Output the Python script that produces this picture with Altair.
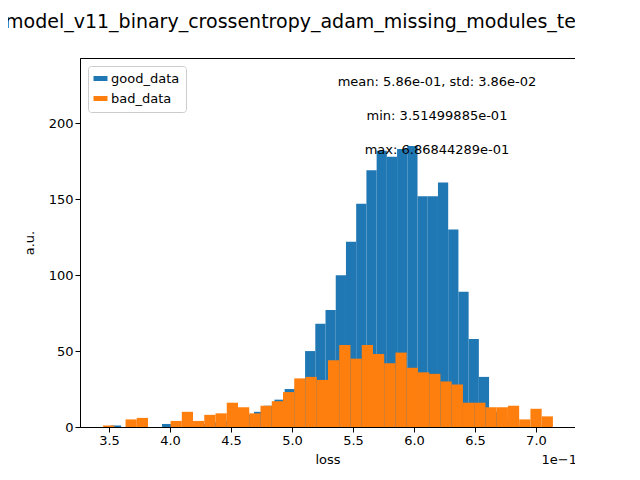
import altair as alt
import pandas as pd

good_start, good_w = 0.3515, 0.00838
good_counts = [1,0,0,0,0,2,0,1,1,2,3,4,6,8,10,14,18,25,28,
               50,68,77,100,122,147,169,182,178,183,185,152,152,161,130,89,58,33,10,4,1]
bad_start, bad_w = 0.3451, 0.00922
bad_counts = [1,0,5,6,0,0,4,10,4,8,9,16,13,9,14,17,23,32,33,31,44,54,45,54,48,42,49,39,36,35,
              30,28,16,16,13,13,14,5,12,7]
stats = ["mean: 5.86e-01, std: 3.86e-02", "min: 3.51499885e-01", "max: 6.86844289e-01"]
title = "model_v11_binary_crossentropy_adam_missing_modules_test_loss"

rows = []
for name, s, w, cs in [("good_data", good_start, good_w, good_counts), ("bad_data", bad_start, bad_w, bad_counts)]:
    for i, c in enumerate(cs):
        if c > 0:
            rows.append({"set": name, "x0": (s + i * w) * 10, "x1": (s + (i + 1) * w) * 10, "n": c})
df = pd.DataFrame(rows)

F = "DejaVu Sans"
color = alt.Color("set:N", scale=alt.Scale(domain=["good_data", "bad_data"], range=["#1f77b4", "#ff7f0e"]),
                  legend=alt.Legend(title=None, orient="none", legendX=8, legendY=8, labelFont=F, labelFontSize=13,
                                    symbolType="M-1.4,-0.5H1.4V0.5H-1.4Z", symbolSize=100, symbolStrokeWidth=0,
                                    strokeColor="#cccccc", fillColor="white", padding=6, cornerRadius=3, rowPadding=6))
xs = alt.X("x0:Q", scale=alt.Scale(domain=[3.262, 7.32], nice=False, zero=False),
           axis=alt.Axis(values=[3.5,4.0,4.5,5.0,5.5,6.0,6.5,7.0], format=".1f", title="loss", grid=False))
ys = alt.Y("n:Q", scale=alt.Scale(domain=[0, 243], nice=False),
           axis=alt.Axis(values=[0,50,100,150,200], title="a.u.", grid=False))

good = alt.Chart(df).transform_filter("datum.set=='good_data'").mark_rect().encode(x=xs, x2="x1:Q", y=ys, y2=alt.datum(0), color=color)
bad = alt.Chart(df).transform_filter("datum.set=='bad_data'").mark_rect().encode(x="x0:Q", x2="x1:Q", y="n:Q", y2=alt.datum(0), color=color)

layers = [good, bad]
for k, t in enumerate(stats):
    layers.append(alt.Chart(pd.DataFrame({"t": [t]})).mark_text(font=F, fontSize=13, align="center", baseline="middle").encode(
        text="t:N", x=alt.value(357), y=alt.value(24 + 34 * k)))
layers.append(alt.Chart(pd.DataFrame({"t": [title]})).mark_text(font=F, fontSize=19, align="left", baseline="middle").encode(
    text="t:N", x=alt.value(-75), y=alt.value(-36)))
layers.append(alt.Chart(pd.DataFrame({"t": ["1e\u22121"]})).mark_text(font=F, fontSize=13, align="right").encode(
    text="t:N", x=alt.value(497), y=alt.value(402)))

chart = alt.layer(*layers).properties(
    width=495, height=369, autosize="none", padding={"left": 72, "top": 50, "right": 0, "bottom": 45}
).configure_view(stroke="black", strokeWidth=1).configure_axis(
    labelFont=F, labelFontSize=13, titleFont=F, titleFontSize=13, titleFontWeight="normal",
    domainColor="black", tickColor="black", labelColor="black", titleColor="black", tickSize=5
).configure_axisY(titlePadding=12).configure_axisX(titlePadding=6)

chart.save("out.html", embed_options={"renderer": "svg", "actions": False})
